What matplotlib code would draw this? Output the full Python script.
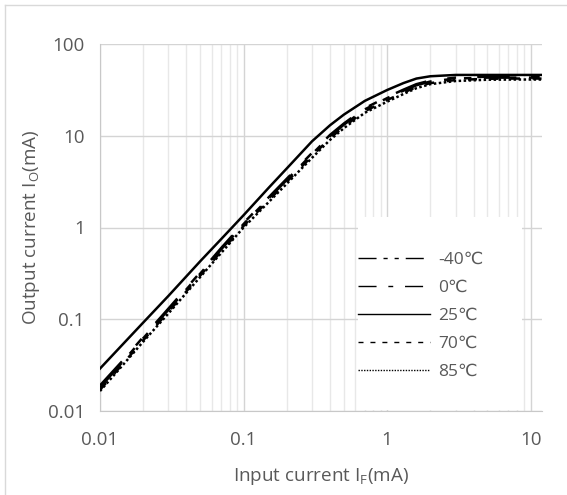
import matplotlib
matplotlib.use("Agg")
import matplotlib.pyplot as plt
from matplotlib.lines import Line2D
from matplotlib.patches import Rectangle

plt.rcParams['font.family'] = ['Open Sans', 'DejaVu Sans']
plt.rcParams['mathtext.default'] = 'regular'

# input current IF (mA), read at these points
i_f = [0.01, 0.015, 0.02, 0.03, 0.05, 0.07, 0.1, 0.15, 0.2, 0.3, 0.4, 0.5, 0.7,
       1.0, 1.3, 1.6, 2.0, 3.0, 5.0, 8.0, 12.0]

# output current IO (mA) per temperature
io_m40 = [0.018, 0.037, 0.062, 0.127, 0.315, 0.58, 1.09, 2.08, 3.3, 6.3, 9.9, 13.2, 19.4,
          25.7, 31.0, 35.5, 39.0, 42.0, 43.0, 43.0, 43.0]
io_0 = [0.019, 0.038, 0.064, 0.131, 0.325, 0.60, 1.12, 2.14, 3.4, 6.5, 10.2, 13.6, 20.0,
        26.4, 31.8, 36.5, 40.0, 43.0, 44.0, 44.0, 44.0]
io_25 = [0.029, 0.057, 0.092, 0.18, 0.43, 0.75, 1.36, 2.72, 4.4, 8.7, 13.0, 17.0, 24.0,
         31.5, 37.5, 42.0, 44.5, 46.0, 46.0, 46.0, 46.0]
io_70 = [0.017, 0.035, 0.059, 0.121, 0.30, 0.55, 1.04, 1.98, 3.15, 6.0, 9.4, 12.6, 18.5,
         24.5, 29.5, 34.0, 37.5, 40.5, 41.8, 42.0, 42.0]
io_85 = [0.0165, 0.034, 0.057, 0.116, 0.29, 0.53, 1.0, 1.9, 3.0, 5.75, 9.0, 12.1, 17.8,
         23.5, 28.5, 33.0, 36.5, 39.5, 40.8, 41.0, 41.0]

labels = ['-40℃', '0℃', '25℃', '70℃', '85℃']
styles = [(0, (13, 5, 3, 5, 3, 5)), (0, (13, 8.5, 3.5, 8.5)), '-', (0, (3.6, 5)), (0, (1, 1))]
series = [io_m40, io_0, io_25, io_70, io_85]

text_col = '#595959'
fig = plt.figure(figsize=(5.67, 4.95), dpi=100)
ax = fig.add_axes([100 / 567, 1 - 411 / 495, 442 / 567, 367 / 495])

for y, ls in zip(series, styles):
    ax.plot(i_f, y, color='black', lw=1.8, ls=ls, zorder=3)

ax.set_xscale('log')
ax.set_yscale('log')
ax.set_xlim(0.01, 12)
ax.set_ylim(0.01, 100)

ax.set_xticks([0.01, 0.1, 1, 10])
ax.set_xticklabels(['0.01', '0.1', '1', '10'])
ax.set_yticks([0.01, 0.1, 1, 10, 100])
ax.set_yticklabels(['0.01', '0.1', '1', '10', '100'])
ax.yaxis.set_minor_locator(matplotlib.ticker.NullLocator())
ax.xaxis.set_minor_formatter(matplotlib.ticker.NullFormatter())
ax.tick_params(which='both', length=0, colors=text_col, labelsize=13.5)
ax.tick_params(axis='x', pad=14.5)
ax.tick_params(axis='y', pad=11)

ax.grid(which='major', color='#d4d4d4', lw=1)
ax.grid(which='minor', axis='x', color='#e8e8e8', lw=1)
ax.set_axisbelow(True)
for s in ['top', 'right']:
    ax.spines[s].set_visible(False)
for s in ['left', 'bottom']:
    ax.spines[s].set_color('#c8c8c8')

ax.set_xlabel('Input current I$_F$(mA)', color=text_col, fontsize=13.6, labelpad=12)
ax.set_ylabel('Output current I$_O$(mA)', color=text_col, fontsize=13.6, labelpad=4.3)

# white legend area that hides the grid
ax.add_patch(Rectangle((0.584, 0.003), 0.37, 0.526, transform=ax.transAxes,
                       facecolor='white', edgecolor='none', zorder=1))

handles = [Line2D([], [], color='black', lw=1.0, ls=ls) for ls in styles]
leg = ax.legend(handles, labels, loc='upper left', bbox_to_anchor=(0.584, 0.433),
                frameon=False, borderpad=0, borderaxespad=0, handlelength=4.15,
                handletextpad=0.46, labelspacing=0.68, fontsize=12.5)
for t in leg.get_texts():
    t.set_color(text_col)

# light frame of the chart area
fig.add_artist(Line2D([5 / 567, 1], [1 - 5 / 495, 1 - 5 / 495], color='#d9d9d9', lw=1))
fig.add_artist(Line2D([5 / 567, 5 / 567], [0, 1 - 5 / 495], color='#d9d9d9', lw=1))

fig.savefig('out.png', dpi=100)
